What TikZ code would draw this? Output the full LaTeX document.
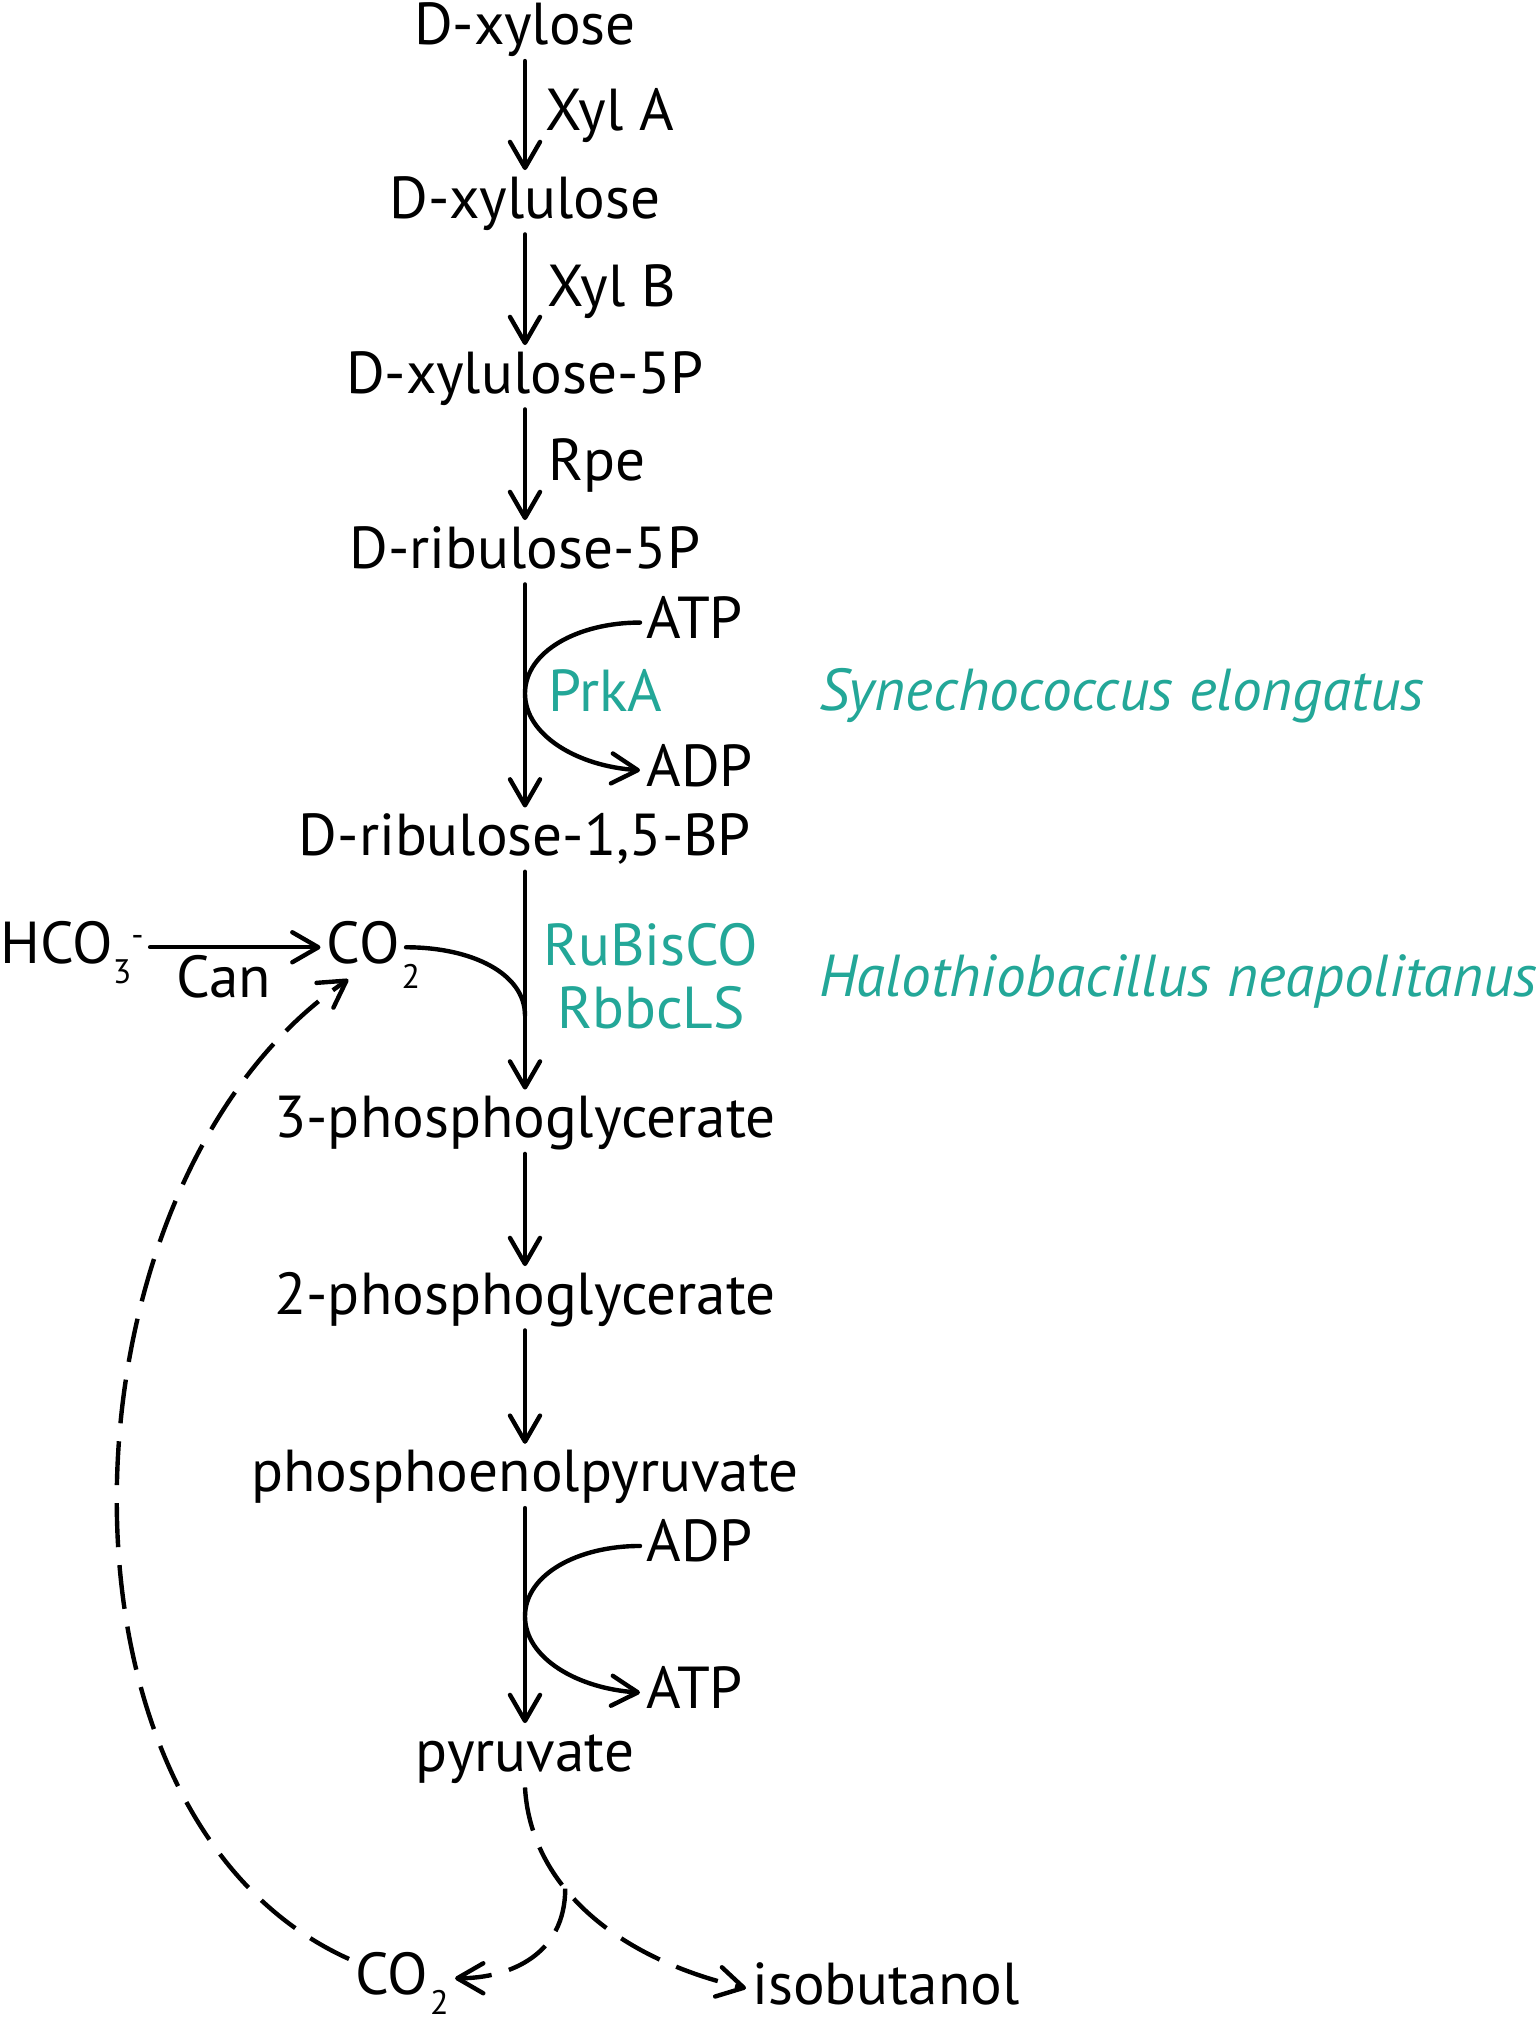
\documentclass[tikz,border=0pt]{standalone}
\usepackage{fontspec}
\setmainfont{PT Sans}
\usetikzlibrary{arrows.meta,calc}
\definecolor{tealc}{RGB}{35,167,152}
\tikzset{
  every node/.style={font=\fontsize{29.6pt}{35pt}\selectfont},
  chem/.style={inner xsep=3pt, inner ysep=2pt, text height=21.75pt, text depth=6pt, anchor=base},
  lbl/.style={inner sep=0pt, anchor=base west},
  enz/.style={lbl, text=tealc},
  species/.style={lbl, text=tealc, font=\fontsize{29.6pt}{35pt}\selectfont\itshape},
  ln/.style={line width=2.2pt, line cap=round, line join=round},
  arr/.style={ln, -{Straight Barb[length=13pt,width=15pt,round]}},
  dsh/.style={line width=2.2pt, dash pattern=on 22pt off 9pt, -{Straight Barb[length=13pt,width=15pt,round]}}
}
\newcommand{\smallsz}{\fontsize{17pt}{17pt}\selectfont}
\begin{document}
\begin{tikzpicture}[x=0.5pt,y=-0.5pt]
\useasboundingbox (0,0) rectangle (1536,2025);
\fill[white] (0,0) rectangle (1536,2025);

% main chain
\node[chem] (xyl)  at (525,44.6)  {D-xylose};
\node[lbl]  (xa)   at (545,130)   {Xyl A};
\node[chem] (xylu) at (525,218)   {D-xylulose};
\node[lbl]  (xb)   at (547,306)   {Xyl B};
\node[chem] (xu5p) at (525,393)   {D-xylulose-5P};
\node[lbl]  (rpe)  at (548,480)   {Rpe};
\node[chem] (ru5p) at (525,568)   {D-ribulose-5P};
\node[chem,anchor=base west] (atp1) at (640,638.3) {ATP};
\node[enz]  (prka) at (548,711.7) {PrkA};
\node[chem,anchor=base west] (adp1) at (640,786) {ADP};
\node[species] (syn) at (818.6,710) {Synechococcus elongatus};
\node[chem] (rubp) at (525,855.4) {D-ribulose-1,5-BP};
\node[chem,anchor=base west] (hco) at (-6,963) {HCO\raisebox{-10pt}{\smallsz 3}\raisebox{8.5pt}{\smallsz -}};
\node[lbl]  (can)  at (176,997)   {Can};
\node[chem,anchor=base west] (co2) at (320.5,963) {CO\rlap{\hspace{1pt}\raisebox{-12.5pt}{\smallsz 2}}};
\node[enz,anchor=base] (rub) at (651,965)  {RuBisCO};
\node[enz,anchor=base] (rbb) at (651,1028) {RbbcLS};
\node[species] (halo) at (818.6,996.7) {Halothiobacillus neapolitanus};
\node[chem] (pg3)  at (525,1137.5) {3-phosphoglycerate};
\node[chem] (pg2)  at (525,1314)   {2-phosphoglycerate};
\node[chem] (pep)  at (525,1491.7) {phosphoenolpyruvate};
\node[chem,anchor=base west] (adp2) at (640,1561.7) {ADP};
\node[chem,anchor=base west] (atp2) at (640,1708.3) {ATP};
\node[chem] (pyr)  at (525,1771)   {pyruvate};
\node[chem,anchor=base west] (co2b) at (349,1994) {CO\hspace{1pt}\raisebox{-10pt}{\smallsz 2}};
\node[chem,anchor=base west] (isob) at (746,2004) {isobutanol};

% straight arrows
\draw[arr] (xyl) -- (xylu);
\draw[arr] (xylu) -- (xu5p);
\draw[arr] (xu5p) -- (ru5p);
\draw[arr] (ru5p) -- (rubp);
\draw[arr] (rubp) -- (pg3);
\draw[arr] (pg3) -- (pg2);
\draw[arr] (pg2) -- (pep);
\draw[arr] (pep) -- (pyr);

% PrkA side reaction
\path (atp1.west) -- (adp1.west) coordinate[pos=0.48] (m1);
\draw[arr] (atp1.west) .. controls +(-62,0) and +(0,-42) .. (m1 -| ru5p.south)
  .. controls +(0,42) and +(-62,-4) .. (adp1.west);

% pyruvate kinase side reaction
\path (adp2.west) -- (atp2.west) coordinate[pos=0.48] (m2);
\draw[arr] (adp2.west) .. controls +(-62,0) and +(0,-42) .. (m2 -| pep.south)
  .. controls +(0,42) and +(-62,-4) .. (atp2.west);

% carbonic anhydrase
\draw[arr] (hco) -- (co2);
% CO2 joins RuBisCO step
\coordinate (j) at ($(rubp.south)!0.66!(pg3.north)$);
\draw[ln] (co2.east) .. controls +(66,0) and +(0,-42) .. (j);

% pyruvate to isobutanol and CO2
\draw[dsh] (pyr.south) .. controls +(5,92) and +(-138,-32) .. coordinate[pos=0.4] (split) (isob.west);
\draw[dsh] (split) .. controls +(0,66) and +(55,0) .. (co2b.east);
% CO2 recycled
\draw[dsh] (co2b.160) .. controls +(-320,-144) and +(-297,202) .. (co2.245);
\end{tikzpicture}
\end{document}
